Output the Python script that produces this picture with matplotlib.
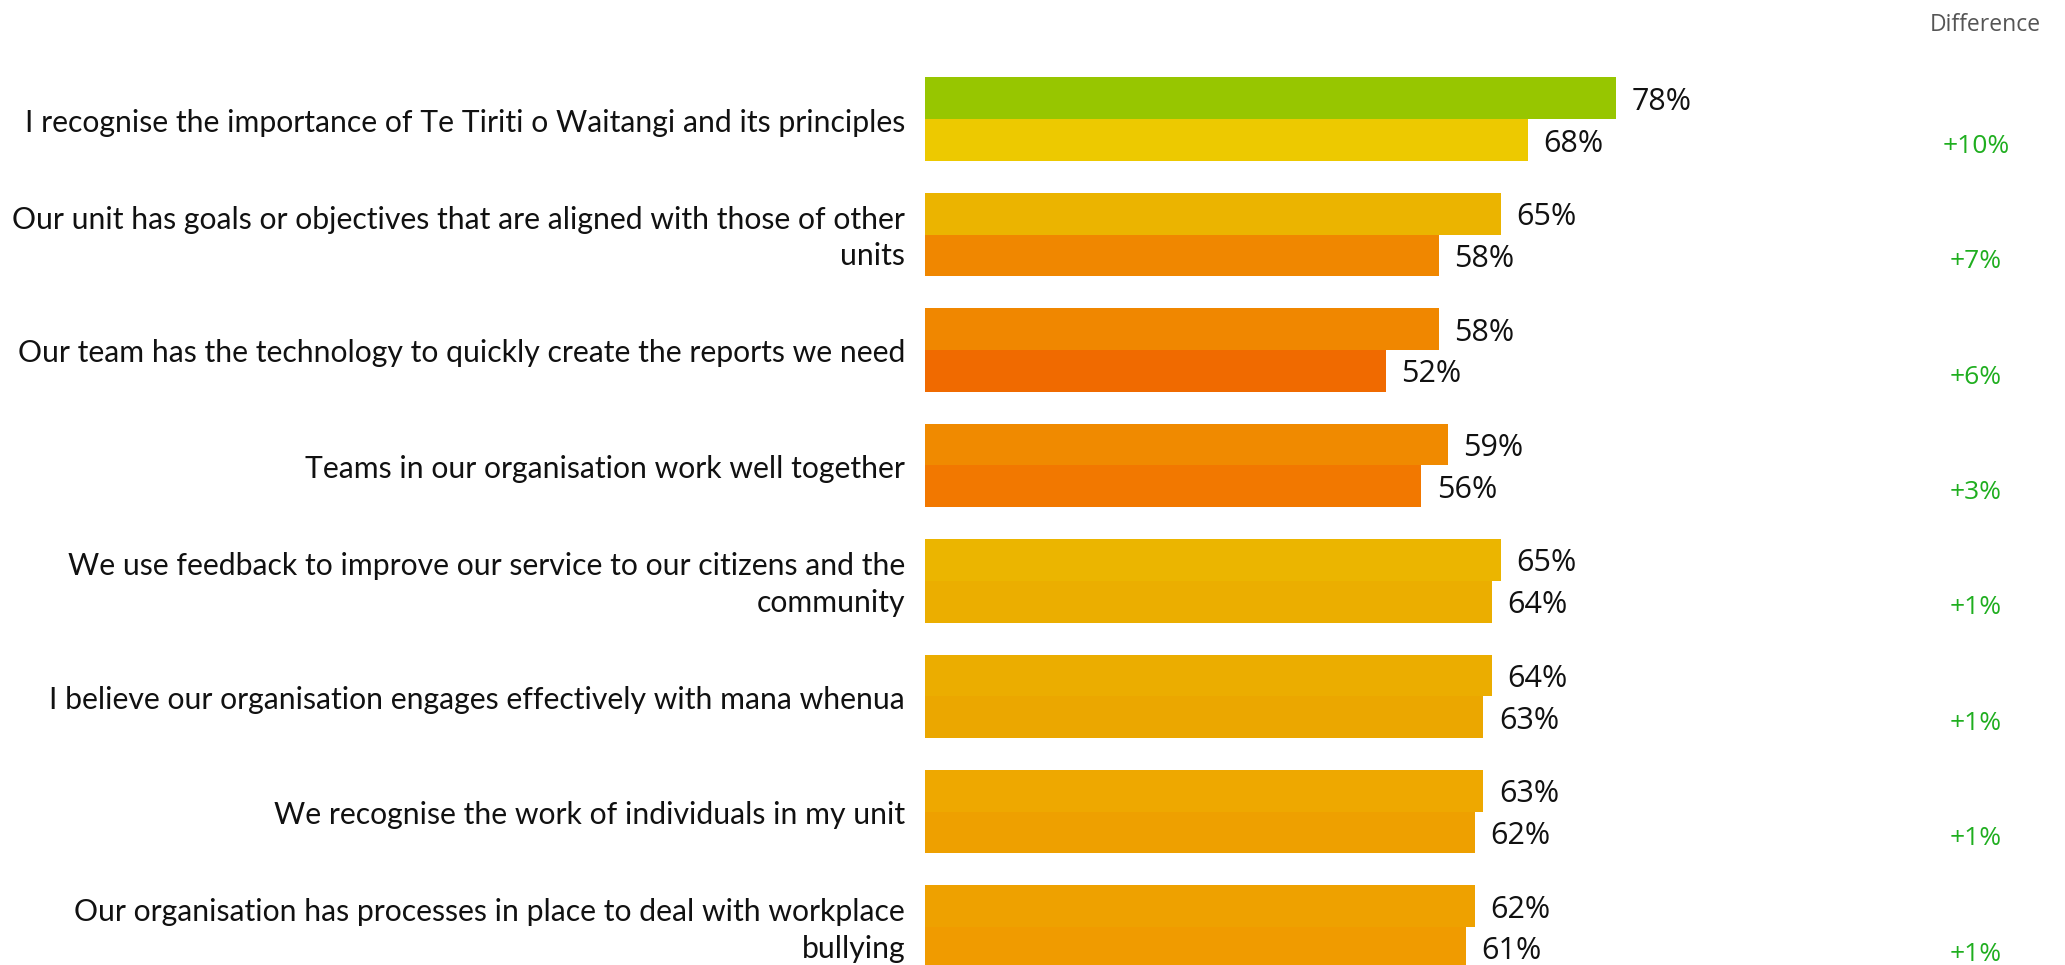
import matplotlib
matplotlib.use("Agg")
import matplotlib.pyplot as plt
import matplotlib.transforms as mtransforms
import numpy as np

# Survey statements (top to bottom)
categories = [
    "I recognise the importance of Te Tiriti o Waitangi and its principles",
    "Our unit has goals or objectives that are aligned with those of other\nunits",
    "Our team has the technology to quickly create the reports we need",
    "Teams in our organisation work well together",
    "We use feedback to improve our service to our citizens and the\ncommunity",
    "I believe our organisation engages effectively with mana whenua",
    "We recognise the work of individuals in my unit",
    "Our organisation has processes in place to deal with workplace\nbullying",
]
current = [78, 65, 58, 59, 65, 64, 63, 62]
previous = [68, 58, 52, 56, 64, 63, 62, 61]

current_colors = ["#97c600", "#ebb400", "#f08700", "#f08a00",
                  "#ebb500", "#ebad00", "#eea800", "#eea100"]
previous_colors = ["#edc900", "#f08700", "#f06a00", "#f27800",
                   "#ebae00", "#eba700", "#eea000", "#f09b00"]

W, H = 2065, 965
x0_px = 925          # left edge of the bars
px_per_pct = 8.865   # horizontal scale
pitch = 115.4        # vertical distance between statement groups
first_center = 119.2
bar_h = 41.7 / pitch

fig = plt.figure(figsize=(W / 100, H / 100), dpi=100)
fig.patch.set_facecolor("white")
ax = fig.add_axes([x0_px / W, 0, 1 - x0_px / W, 1])
ax.set_xlim(0, (W - x0_px) / px_per_pct)
ax.set_ylim((H - first_center) / pitch, -first_center / pitch)
ax.axis("off")

y = np.arange(len(categories))
ax.barh(y - bar_h / 2, current, height=bar_h, color=current_colors, linewidth=0)
ax.barh(y + bar_h / 2, previous, height=bar_h, color=previous_colors, linewidth=0)

value_font = dict(family="Open Sans", fontsize=22, color="#111111")
for i in range(len(categories)):
    ax.annotate(f"{current[i]}%", xy=(current[i], y[i] - bar_h / 2),
                xytext=(11, -2.5), textcoords="offset points",
                va="center", ha="left", **value_font)
    ax.annotate(f"{previous[i]}%", xy=(previous[i], y[i] + bar_h / 2),
                xytext=(11, -2.5), textcoords="offset points",
                va="center", ha="left", **value_font)

# Statement labels, right-aligned against the bars
for i, label in enumerate(categories):
    ax.text(-20 / px_per_pct, y[i] + 0.03, label, ha="right", va="center",
            multialignment="right", family="Lato", fontsize=21.7,
            color="#111111", linespacing=1.38)

# Difference column
blend = mtransforms.blended_transform_factory(fig.transFigure, ax.transData)
for i in range(len(categories)):
    diff = current[i] - previous[i]
    ax.text(1976 / W, y[i] + bar_h / 2 + 0.055, f"{diff:+d}%", transform=blend,
            ha="center", va="center", family="Open Sans", fontsize=19,
            color="#1fae1f")

fig.text(1985 / W, 1 - 25 / H, "Difference", ha="center", va="center",
         family="Open Sans", fontsize=16.5, color="#555555")

fig.savefig("out.png", dpi=100, facecolor="white")
